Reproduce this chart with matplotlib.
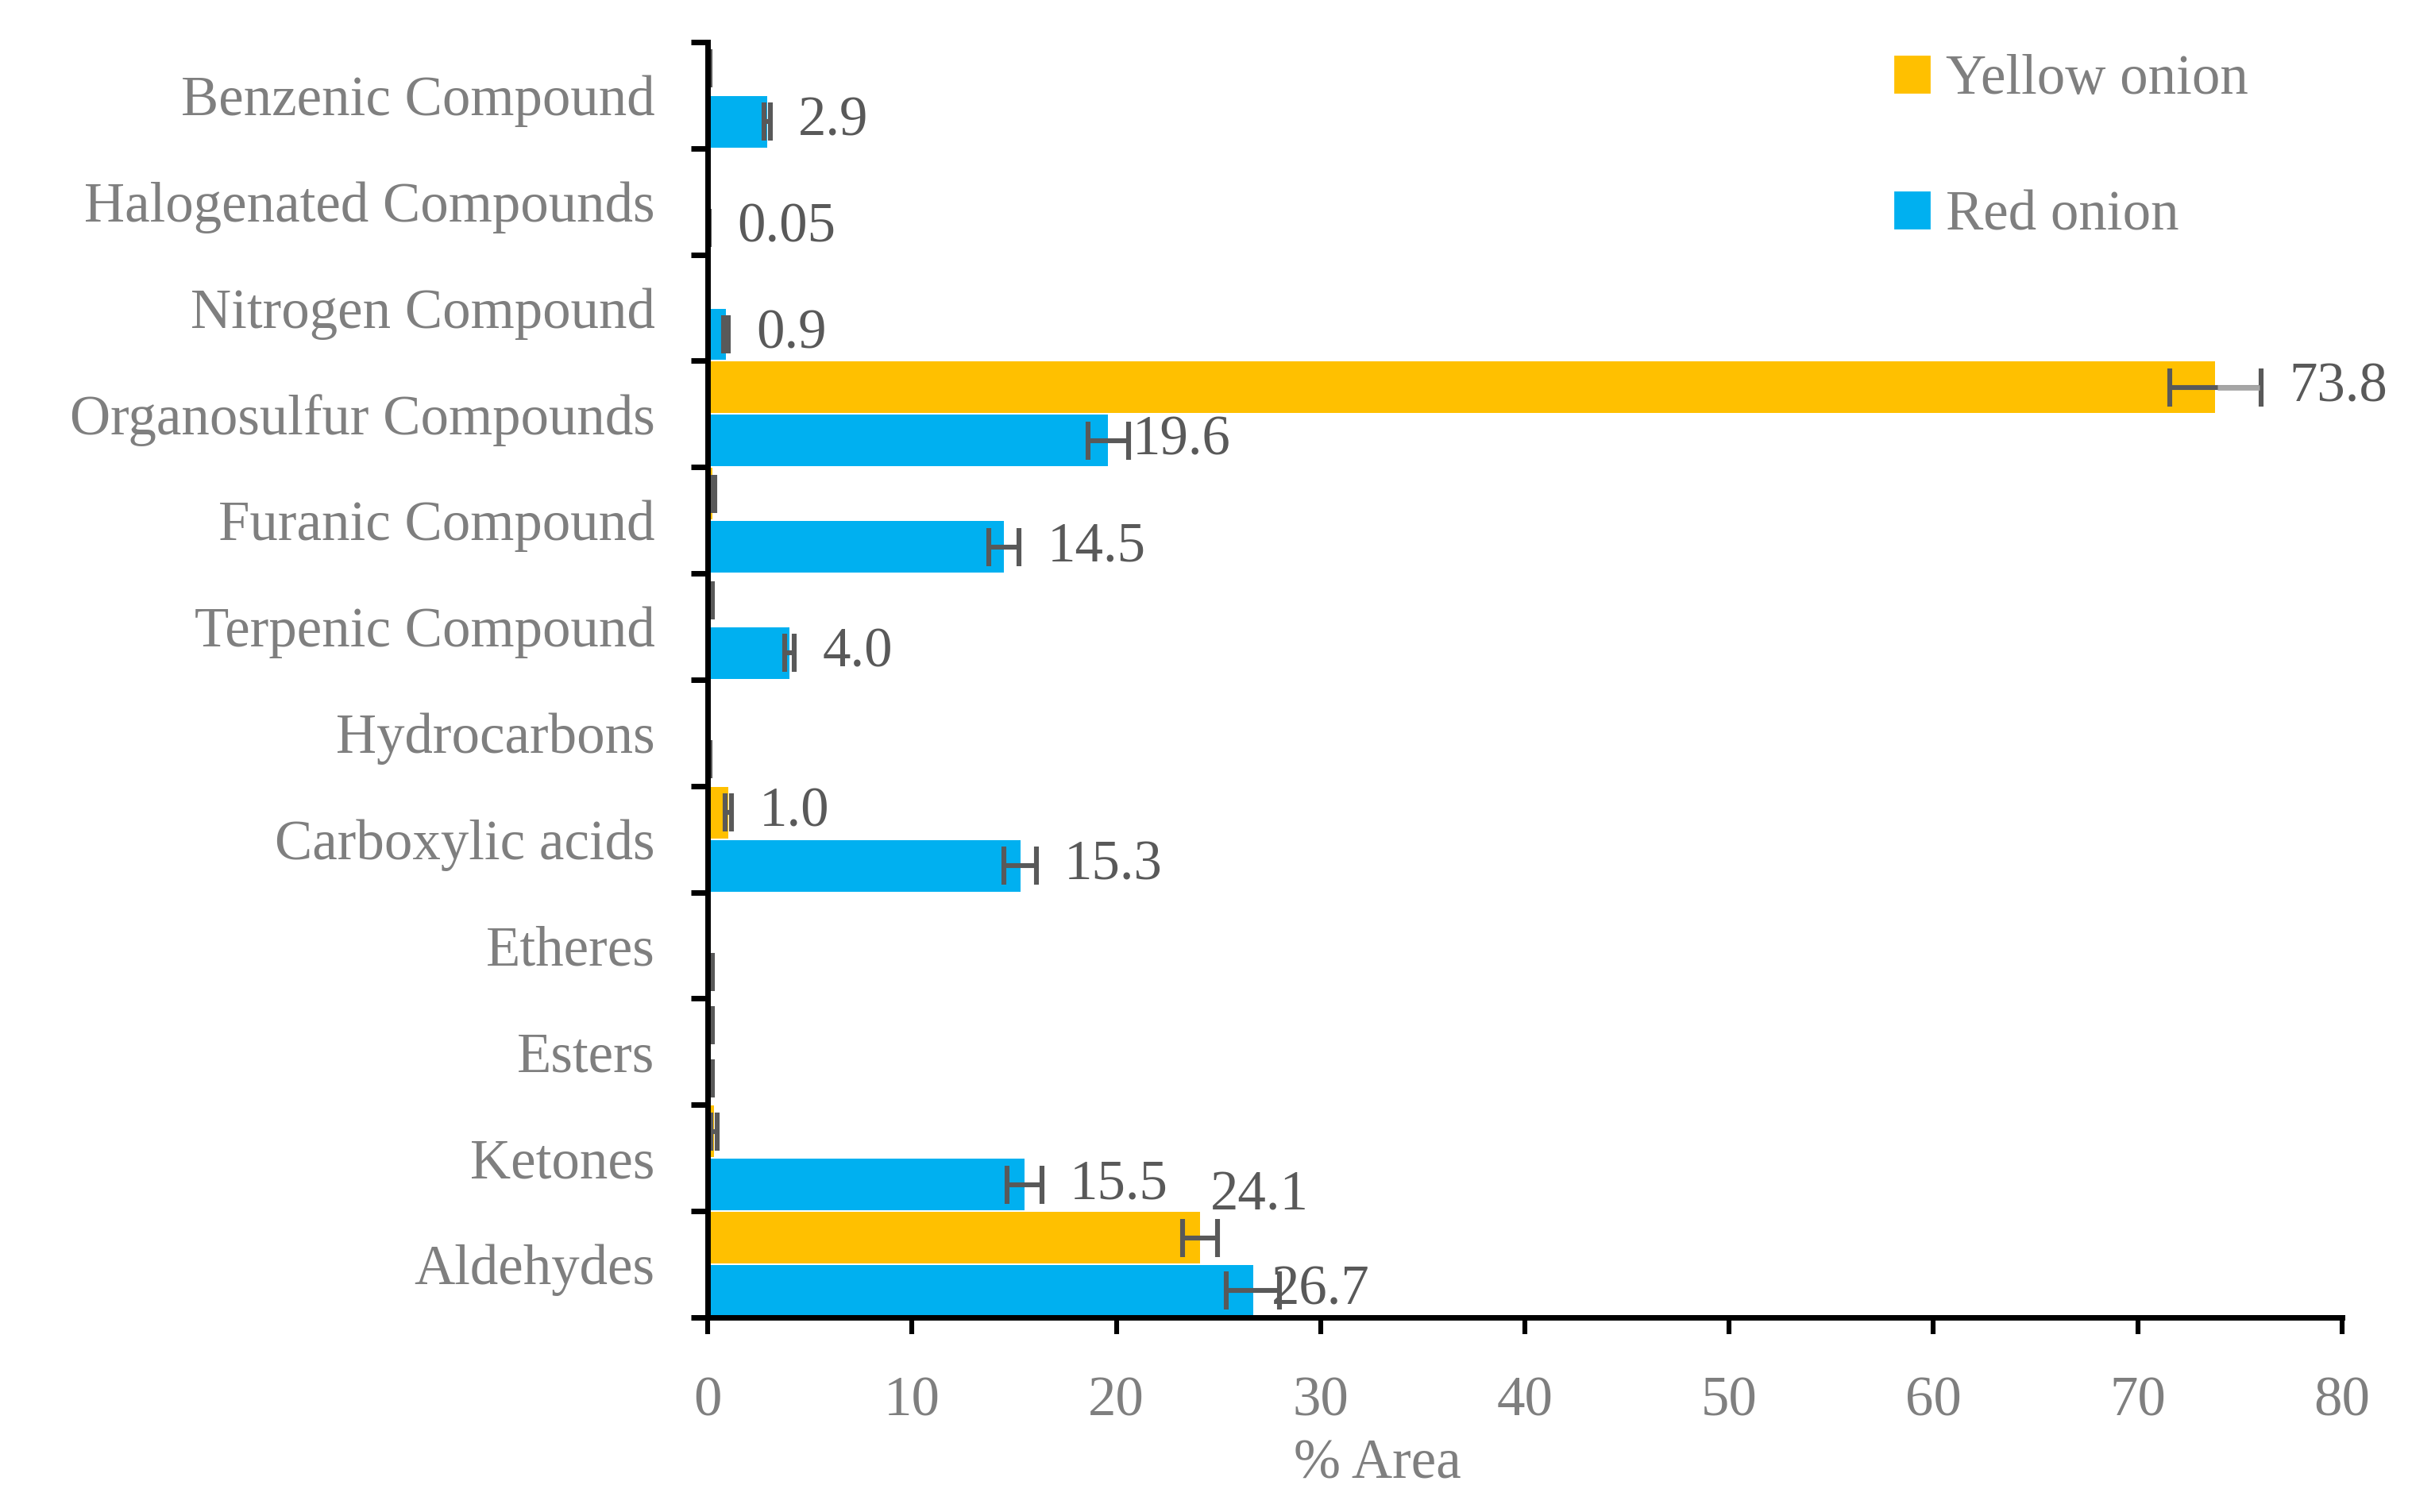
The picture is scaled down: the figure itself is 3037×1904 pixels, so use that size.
import matplotlib
matplotlib.use("Agg")
from matplotlib import pyplot as plt
from matplotlib.patches import Patch
import numpy as np

# categories listed bottom -> top as they sit on the axis
categories = ["Aldehydes", "Ketones", "Esters", "Etheres", "Carboxylic acids", "Hydrocarbons",
              "Terpenic Compound", "Furanic Compound", "Organosulfur Compounds", "Nitrogen Compound",
              "Halogenated Compounds", "Benzenic Compound"]

yellow = [24.1, 0.3, 0.15, 0.0, 1.0, 0.0, 0.15, 0.23, 73.8, 0.0, 0.0, 0.05]
yellow_err = [0.85, 0.15, 0.1, 0.0, 0.15, 0.0, 0.1, 0.12, 2.25, 0.0, 0.0, 0.05]
yellow_lbl = ["24.1", "", "", "", "1.0", "", "", "", "73.8", "", "", ""]

red = [26.7, 15.5, 0.15, 0.15, 15.3, 0.05, 4.0, 14.5, 19.6, 0.9, 0.05, 2.9]
red_err = [1.3, 0.85, 0.1, 0.1, 0.8, 0.05, 0.25, 0.75, 1.0, 0.12, 0.03, 0.15]
red_lbl = ["26.7", "15.5", "", "", "15.3", "", "4.0", "14.5", "19.6", "0.9", "0.05", "2.9"]

xticks = [0, 10, 20, 30, 40, 50, 60, 70, 80]

# labels that were dragged by hand in the original (dx, dy in points)
nudge = {"19.6": (-11, 0), "26.7": (-16.5, 0), "24.1": (-16, 19)}

c_yel = "#FFC000"
c_red = "#00B0F0"
c_err = "#595959"
c_txt = "#7F7F7F"
c_lbl = "#595959"
fs = 25.5

plt.rcParams['font.family'] = ['Liberation Serif', 'DejaVu Serif']

fig, ax = plt.subplots(figsize=(3037/200, 1904/200), dpi=200)
fig.subplots_adjust(left=0.2934, right=0.971, bottom=0.1287, top=0.9722)

y = np.arange(len(categories))
h = 0.485
ekw = dict(ecolor=c_err, elinewidth=2.2, capsize=8.5, capthick=2.2)
ax.barh(y + 0.25, yellow, height=h, color=c_yel, xerr=yellow_err, error_kw=ekw, label="Yellow onion")
ax.barh(y - 0.25, red, height=h, color=c_red, xerr=red_err, error_kw=ekw, label="Red onion")

# the big organosulfur bar has a light grey whisker outside the bar in the original
kmax = int(np.argmax(yellow))
ax.plot([yellow[kmax] + 0.1, yellow[kmax] + yellow_err[kmax] - 0.1], [y[kmax] + 0.25] * 2,
        color="#A6A6A6", lw=2.4, solid_capstyle="butt", zorder=3)

for vals, errs, lbls, off in [(yellow, yellow_err, yellow_lbl, 0.25), (red, red_err, red_lbl, -0.25)]:
    for k in range(len(vals)):
        if lbls[k] == "":
            continue
        dx, dy = nudge.get(lbls[k], (0, 0))
        ax.annotate(lbls[k], (vals[k] + errs[k], y[k] + off), xytext=(12.6 + dx, dy),
                    textcoords="offset points", va="center", ha="left", fontsize=fs, color=c_lbl)

ax.set_xlim(0, 80)
ax.set_ylim(-0.5, len(categories) - 0.5)
ax.set_xticks(xticks)
ax.set_xticklabels([str(t) for t in xticks])

# boundary ticks without labels, category names on minor ticks
ax.set_yticks(np.arange(-0.5, len(categories), 1.0))
ax.set_yticklabels([])
ax.set_yticks(y, minor=True)
ax.set_yticklabels(categories, minor=True)

for s in ["top", "right"]:
    ax.spines[s].set_visible(False)
for s in ["left", "bottom"]:
    ax.spines[s].set_linewidth(2.5)
    ax.spines[s].set_color("black")

ax.tick_params(axis="y", which="major", direction="out", length=7.5, width=2.5, color="black")
ax.tick_params(axis="y", which="minor", length=0, pad=24, labelsize=fs, labelcolor=c_txt)
ax.tick_params(axis="x", direction="out", length=7.5, width=2.2, color="black", pad=19,
               labelsize=fs, labelcolor=c_txt)

ax.set_xlabel("% Area", fontsize=fs, color=c_txt)
ax.xaxis.set_label_coords(0.41, -0.095)

handles = [Patch(color=c_yel), Patch(color=c_red)]
fig.legend(handles, ["Yellow onion", "Red onion"], loc="upper left", bbox_to_anchor=(0.767, 0.994),
           frameon=False, fontsize=fs, labelcolor=c_txt, handlelength=0.6, handleheight=0.6,
           handletextpad=0.3, labelspacing=1.5, borderpad=0.3)

plt.savefig("out.png", dpi=200)
